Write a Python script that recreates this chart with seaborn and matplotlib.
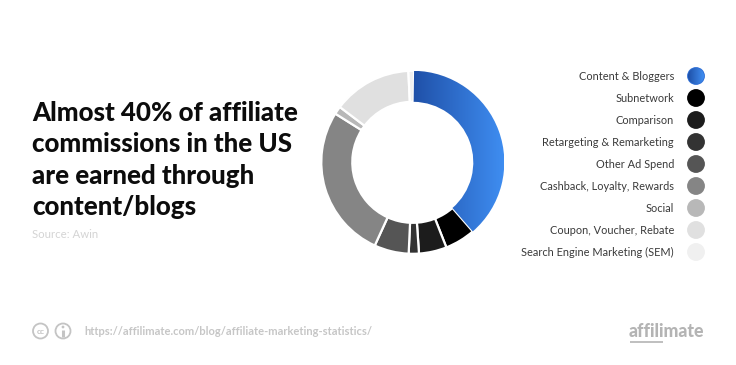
import numpy as np
import matplotlib.pyplot as plt
from matplotlib.colors import LinearSegmentedColormap
from matplotlib.patches import Circle
import seaborn as sns

# Data
categories = ['Content & Bloggers', 'Subnetwork', 'Comparison', 'Retargeting & Remarketing',
              'Other Ad Spend', 'Cashback, Loyalty, Rewards', 'Social',
              'Coupon, Voucher, Rebate', 'Search Engine Marketing (SEM)']
shares = [38.4, 5.4, 4.9, 1.8, 6.1, 27.1, 1.4, 13.9, 1.0]
colors = ['#2f6fd6', '#000000', '#1c1c1c', '#333333', '#555555',
          '#858585', '#b8b8b8', '#e0e0e0', '#f0f0f0']
title_lines = ['Almost 40% of affiliate', 'commissions in the US',
               'are earned through', 'content/blogs']
source = 'Source: Awin'
url = 'https://affilimate.com/blog/affiliate-marketing-statistics/'
logo = 'affilimate'

W, H = 736, 365
sns.set_theme(style='white')
plt.rcParams['font.family'] = ['Lato', 'DejaVu Sans']
blue_grad = LinearSegmentedColormap.from_list('blue_grad', ['#1f50a8', '#3f8ef2'])
grad = np.linspace(0, 1, 256).reshape(1, -1)

fig = plt.figure(figsize=(W / 100, H / 100), dpi=100, facecolor='white')

# Page axes in pixel units for the text and legend
page = fig.add_axes([0, 0, 1, 1])
page.set_xlim(0, W)
page.set_ylim(H, 0)
page.axis('off')

# Legend
legend_y = [76 + 22 * i for i in range(len(categories))]
legend_x = [696] * len(categories)
sns.scatterplot(x=legend_x, y=legend_y, hue=categories, palette=colors, s=165,
                linewidth=0, legend=False, ax=page, zorder=2)
for label, y in zip(categories, legend_y):
    page.text(674, y + 0.5, label, ha='right', va='center', fontsize=7.9, color='#3a3a3a')
dot = page.imshow(grad, cmap=blue_grad, extent=[688, 704, 84, 68], aspect='auto', zorder=3)
dot.set_clip_path(Circle((696, 76), 8, transform=page.transData))
page.set_xlim(0, W)
page.set_ylim(H, 0)

# Title block
for i, line in enumerate(title_lines):
    page.text(32, 121 + 31.3 * i, line, fontsize=18.6, fontweight='black', color='#0c0c0c',
              va='baseline', ha='left')
page.text(32, 238, source, fontsize=8.2, color='#d4d4d4', va='baseline')

# Footer
page.add_patch(Circle((40.5, 331), 7.5, fill=False, ec='#c4c4c4', lw=1.3))
page.text(40.5, 331, 'cc', fontsize=6, fontweight='bold', color='#c4c4c4', ha='center', va='center')
page.add_patch(Circle((63, 331), 7.5, fill=False, ec='#c4c4c4', lw=1.3))
page.add_patch(Circle((63, 327), 1.4, fc='#c4c4c4', ec='none'))
page.plot([63, 63], [329.5, 336.5], color='#c4c4c4', lw=2.2, solid_capstyle='butt')
page.text(84, 335, url, fontsize=8.0, fontweight='bold', color='#c6c6c6', va='baseline')
page.text(704, 337, logo, fontsize=12.75, fontweight='black', color='#b4b4b4', ha='right', va='baseline')
page.plot([630, 663], [341.5, 341.5], color='#b4b4b4', lw=1.2, solid_capstyle='butt')

# Donut
cx, cy, r = 412.8, 162.3, 91.5
pie_ax = fig.add_axes([(cx - r) / W, 1 - (cy + r) / H, 2 * r / W, 2 * r / H])
wedges, _ = pie_ax.pie(shares, colors=colors, startangle=89.2, counterclock=False, radius=1,
                       wedgeprops=dict(width=1 - 60.5 / 91.5, edgecolor='white', linewidth=1.6))
pie_ax.set_xlim(-1, 1)
pie_ax.set_ylim(-1, 1)
img = pie_ax.imshow(grad, cmap=blue_grad, extent=[0, 1, -1, 1], aspect='auto', zorder=wedges[0].get_zorder() + 0.1)
img.set_clip_path(wedges[0])
pie_ax.set_xlim(-1, 1)
pie_ax.set_ylim(-1, 1)
pie_ax.set_aspect('equal')
pie_ax.axis('off')

fig.savefig('out.png', dpi=100, facecolor='white')
